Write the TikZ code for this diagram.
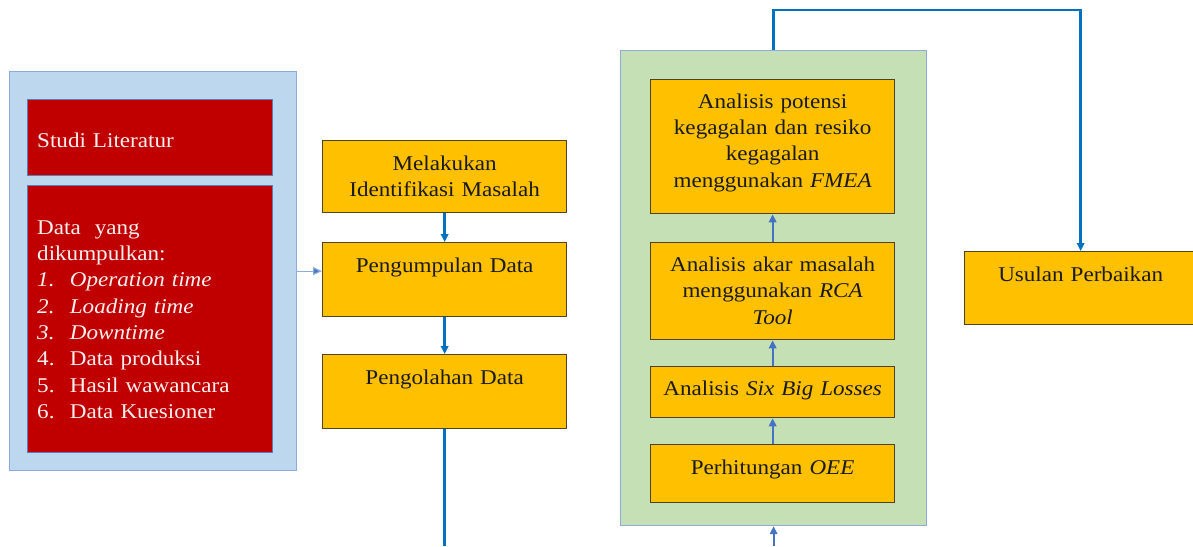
\documentclass[tikz,border=0pt]{standalone}
\usepackage{fontspec}
\setmainfont{Liberation Serif}[FakeStretch=1.1]
\usetikzlibrary{arrows.meta}
\definecolor{panelblue}{HTML}{BDD7EE}
\definecolor{panelgreen}{HTML}{C5E0B4}
\definecolor{framegray}{HTML}{8FAADC}
\definecolor{myyellow}{HTML}{FFC000}
\definecolor{ybrown}{HTML}{4F4322}
\definecolor{myred}{HTML}{C00000}
\definecolor{rframe}{HTML}{5B7DB1}
\definecolor{linkblue}{HTML}{0070C0}
\definecolor{arrowblue}{HTML}{4472C4}
\definecolor{ink}{HTML}{1A1A1A}
\definecolor{paleink}{HTML}{FBEFEF}
\begin{document}
\begin{tikzpicture}[x=1pt,y=-1pt,>={Triangle[length=8pt,width=7.5pt]}]
\tikzstyle{panel}=[draw=framegray, line width=1.2pt, anchor=north west, inner sep=0pt]
\tikzstyle{ybox}=[draw=ybrown, fill=myyellow, line width=1.3pt, anchor=north west, inner sep=0pt]
\tikzstyle{rbox}=[draw=rframe, fill=myred, line width=1pt, anchor=north west, inner sep=0pt]
\tikzstyle{ytext}=[anchor=base, align=center, text width=236pt, inner sep=0pt, text=ink,
    font=\fontsize{21}{26.3}\selectfont]
\tikzstyle{rtext}=[anchor=base west, align=left, text width=230pt, inner sep=0pt, text=paleink,
    font=\fontsize{21}{26.3}\selectfont]
\tikzstyle{flow}=[->, draw=linkblue, line width=2.5pt]
\tikzstyle{uplink}=[->, draw=arrowblue, line width=2pt]
\useasboundingbox (0,0) rectangle (1193,546);

% left panel: literature and collected data
\node[panel, fill=panelblue, minimum width=287, minimum height=399] (litpanel) at (9,71) {};
\node[rbox, minimum width=245, minimum height=76]  (studi) at (27,99)  {};
\node[rbox, minimum width=245, minimum height=267] (data)  at (27,185) {};
\node[rtext] (studi-t) at ([xshift=10pt,yshift=-48pt]studi.north west) {Studi Literatur};
\node[rtext] (data-t)  at ([xshift=10pt,yshift=-49.3pt]data.north west)
    {Data\ \ yang\\dikumpulkan:\\
     \textit{\makebox[32.7pt][l]{1.}Operation time}\\
     \textit{\makebox[32.7pt][l]{2.}Loading time}\\
     \textit{\makebox[32.7pt][l]{3.}Downtime}\\
     \makebox[32.7pt][l]{4.}Data produksi\\
     \makebox[32.7pt][l]{5.}Hasil wawancara\\
     \makebox[32.7pt][l]{6.}Data Kuesioner};

% middle column
\node[ybox, minimum width=244, minimum height=72] (ident)  at (322,140) {};
\node[ybox, minimum width=244, minimum height=74] (kumpul) at (322,242) {};
\node[ybox, minimum width=244, minimum height=74] (olah)   at (322,354) {};
\node[ytext] (ident-t)  at ([yshift=-30pt]ident.north)  {Melakukan\\Identifikasi Masalah};
\node[ytext] (kumpul-t) at ([yshift=-30pt]kumpul.north) {Pengumpulan Data};
\node[ytext] (olah-t)   at ([yshift=-30pt]olah.north)   {Pengolahan Data};
\coordinate (olah-out) at (olah.south |- 0,546);

% analysis panel
\node[panel, fill=panelgreen, minimum width=306, minimum height=475] (greenpanel) at (620,50) {};
\node[ybox, minimum width=244, minimum height=134] (fmea) at (650,79)  {};
\node[ybox, minimum width=244, minimum height=97]  (rca)  at (650,242) {};
\node[ybox, minimum width=244, minimum height=51]  (sbl)  at (650,366) {};
\node[ybox, minimum width=244, minimum height=58]  (oee)  at (650,444) {};
\node[ytext] (fmea-t) at ([yshift=-29.3pt]fmea.north)
    {Analisis potensi\\kegagalan dan resiko\\kegagalan\\menggunakan \textit{FMEA}};
\node[ytext] (rca-t)  at ([yshift=-29.5pt]rca.north)
    {Analisis akar masalah\\menggunakan \textit{RCA}\\\textit{Tool}};
\node[ytext] (sbl-t)  at ([yshift=-29.7pt]sbl.north) {Analisis \textit{Six Big Losses}};
\node[ytext] (oee-t)  at ([yshift=-30.7pt]oee.north) {Perhitungan \textit{OEE}};
\coordinate (green-in) at (greenpanel.south |- 0,546);

% result
\node[ybox, minimum width=232, minimum height=73] (usulan) at (964,251) {};
\node[ytext] (usulan-t) at ([yshift=-30.7pt]usulan.north) {Usulan Perbaikan};

\draw[-{Triangle[length=9pt,width=8pt,fill=arrowblue]}, draw=framegray, line width=1.2pt]
    (litpanel.east) -- (litpanel.east -| kumpul.west);
\draw[flow] (ident) -- (kumpul);
\draw[flow] (kumpul) -- (olah);
\draw[flow, -] (olah.south) -- (olah-out);

\draw[uplink] (green-in) -- (greenpanel.south);
\draw[uplink] (oee) -- (sbl);
\draw[uplink] (sbl) -- (rca);
\draw[uplink] (rca) -- (fmea);

\draw[flow] (greenpanel.north) -- (greenpanel.north |- 0,10) -| (usulan.north);
\end{tikzpicture}
\end{document}
